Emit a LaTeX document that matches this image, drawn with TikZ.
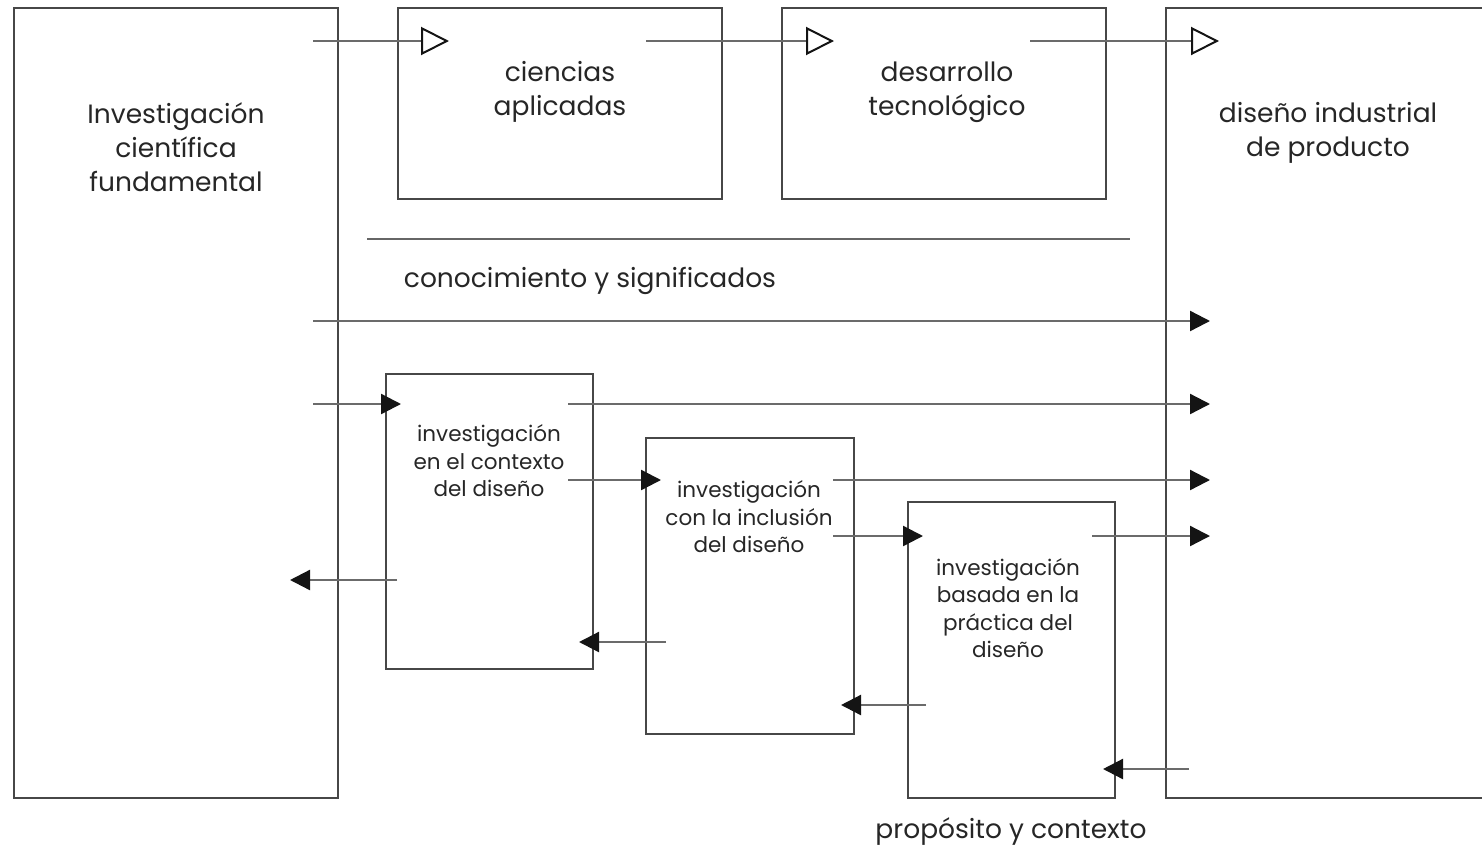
\documentclass[tikz,border=0pt]{standalone}
\usepackage{fontspec}
\setmainfont{Poppins}
\usetikzlibrary{arrows.meta}
\definecolor{boxline}{gray}{0.28}
\definecolor{arrline}{gray}{0.42}
\definecolor{tipcol}{gray}{0.08}
\tikzset{
  frame/.style={draw=boxline, line width=2.3pt, rectangle, inner sep=0pt},
  biglabel/.style={align=center, font=\fontsize{26.5}{34}\selectfont, text=black!85},
  smalllabel/.style={align=center, font=\fontsize{21.5}{27.5}\selectfont, text=black!85},
  openarrow/.style={draw=arrline, line width=2.3pt,
    -{Triangle[open, length=28pt, width=28pt, color=tipcol, line width=2pt]}},
  fullarrow/.style={draw=arrline, line width=2.3pt,
    -{Triangle[length=20pt, width=20pt, color=tipcol]}},
}
\begin{document}
\begin{tikzpicture}[x=1pt, y=-1pt]
\useasboundingbox (0,0) rectangle (1482,846);
\begin{scope}
\clip (0,0) rectangle (1482,846);

% main frames
\node[frame, minimum width=324pt, minimum height=790pt, anchor=north west] (fund) at (13,7) {};
\node[frame, minimum width=324pt, minimum height=191pt, anchor=north west] (cien) at (397,7) {};
\node[frame, minimum width=324pt, minimum height=191pt, anchor=north west] (desa) at (781,7) {};
\node[frame, minimum width=340pt, minimum height=790pt, anchor=north west] (dise) at (1165,7) {};

% research boxes
\node[frame, minimum width=207pt, minimum height=295pt, anchor=north west] (ctx) at (385,373) {};
\node[frame, minimum width=208pt, minimum height=296pt, anchor=north west] (inc) at (645,437) {};
\node[frame, minimum width=207pt, minimum height=296pt, anchor=north west] (pra) at (907,501) {};

% labels
\node[biglabel] (tfund) at (176,147) {Investigación\\científica\\fundamental};
\node[biglabel] (tcien) at (560,92) {ciencias\\aplicadas};
\node[biglabel] (tdesa) at (947,92) {desarrollo\\tecnológico};
\node[biglabel] (tdise) at (1328,133) {diseño industrial\\de producto};
\node[biglabel] (tcono) at (590,281) {conocimiento y significados};
\node[smalllabel] (tctx) at (489,461) {investigación\\en el contexto\\del diseño};
\node[smalllabel] (tinc) at (749,517) {investigación\\con la inclusión\\del diseño};
\node[smalllabel] (tpra) at (1008,608) {investigación\\basada en la\\práctica del\\diseño};
\node[biglabel] (tprop) at (1011,831) {propósito y contexto};

% separator line
\coordinate (sepL) at (367,239);
\coordinate (sepR) at (1130,239);
\draw[draw=black!60, line width=2.3pt] (sepL) -- (sepR);

% arrow end points
\coordinate (a1s) at (313,41);  \coordinate (a1e) at (449,41);
\coordinate (a2s) at (646,41);  \coordinate (a2e) at (834,41);
\coordinate (a3s) at (1030,41); \coordinate (a3e) at (1219,41);
\coordinate (k1s) at (313,321); \coordinate (k1e) at (1210,321);
\coordinate (b1s) at (313,404); \coordinate (b1e) at (401,404);
\coordinate (b2s) at (568,404); \coordinate (b2e) at (1210,404);
\coordinate (c1s) at (568,480); \coordinate (c1e) at (661,480);
\coordinate (c2s) at (833,480); \coordinate (c2e) at (1210,480);
\coordinate (d1s) at (833,536); \coordinate (d1e) at (923,536);
\coordinate (d2s) at (1092,536);\coordinate (d2e) at (1210,536);
\coordinate (r1s) at (397,580); \coordinate (r1e) at (290,580);
\coordinate (r2s) at (666,642); \coordinate (r2e) at (579,642);
\coordinate (r3s) at (926,705); \coordinate (r3e) at (841,705);
\coordinate (r4s) at (1189,769);\coordinate (r4e) at (1103,769);

% flow along the top row
\draw[openarrow] (a1s) -- (a1e);
\draw[openarrow] (a2s) -- (a2e);
\draw[openarrow] (a3s) -- (a3e);

% knowledge flows
\draw[fullarrow] (k1s) -- (k1e);
\draw[fullarrow] (b1s) -- (b1e);
\draw[fullarrow] (b2s) -- (b2e);
\draw[fullarrow] (c1s) -- (c1e);
\draw[fullarrow] (c2s) -- (c2e);
\draw[fullarrow] (d1s) -- (d1e);
\draw[fullarrow] (d2s) -- (d2e);

% feedback flows
\draw[fullarrow] (r1s) -- (r1e);
\draw[fullarrow] (r2s) -- (r2e);
\draw[fullarrow] (r3s) -- (r3e);
\draw[fullarrow] (r4s) -- (r4e);
\end{scope}
\end{tikzpicture}
\end{document}
